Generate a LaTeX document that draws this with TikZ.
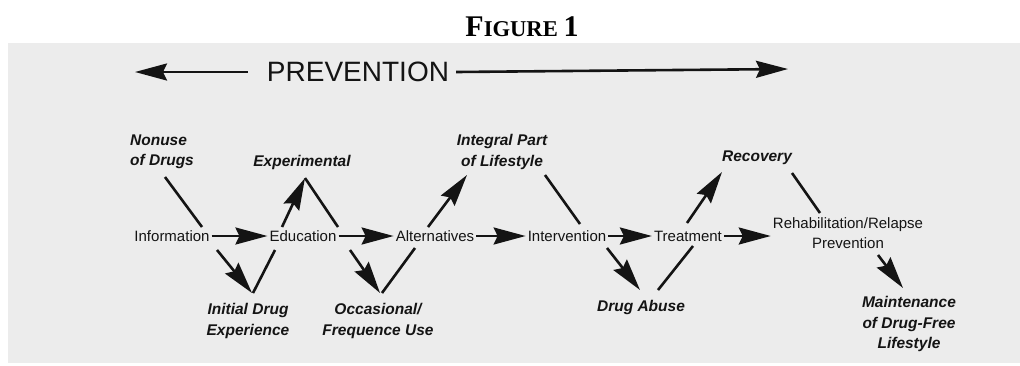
\documentclass[tikz,border=0pt]{standalone}
\usepackage{fontspec}
\setmainfont{Liberation Sans}
\newfontfamily\titlefont{Liberation Serif}
\usetikzlibrary{arrows.meta}
\definecolor{bgray}{RGB}{236,236,236}
\definecolor{ink}{RGB}{20,20,20}
\begin{document}
\begin{tikzpicture}[x=1pt,y=-1pt,
  proc/.style={inner sep=2pt, font=\fontsize{15}{20}\selectfont, text=ink, align=center},
  stage/.style={inner sep=2pt, font=\fontsize{15.5}{20.5}\selectfont\bfseries\itshape, text=ink, align=center},
  conn/.style={line width=2.6pt, draw=ink},
  arr/.style={conn, -{Stealth[length=32pt,width=17pt,inset=4pt]}}]
\useasboundingbox (0,0) rectangle (1020,365);
\fill[bgray] (8,43) rectangle (1020,363);
% title
\node[anchor=base, inner sep=0pt, text=black] (title) at (522,36)
  {\titlefont\bfseries\fontsize{30}{30}\selectfont F\fontsize{22.6}{22.6}\selectfont IGURE \fontsize{30}{30}\selectfont 1};
% prevention
\node[inner sep=2pt, text=ink, font=\fontsize{28}{28}\selectfont] (prev) at (358,72) {PREVENTION};
\coordinate (pl) at (135,72);
\coordinate (pr) at (788,69);
\draw[arr] ([xshift=-17pt]prev.west) -- (pl);
\draw[arr] ([xshift=5pt]prev.east) -- (pr);
% process nodes
\node[proc] (info) at (172,236) {Information};
\node[proc] (edu) at (303,236) {Education};
\node[proc] (alt) at (435,236) {Alternatives};
\node[proc] (interv) at (567,236) {Intervention};
\node[proc] (treat) at (688,236) {Treatment};
\node[proc] (rehab) at (848,233) {Rehabilitation/Relapse\\Prevention};
% stage nodes
\node[stage, align=left] (nonuse) at (162,152) {Nonuse\\of Drugs};
\node[stage] (exper) at (302,162) {Experimental};
\node[stage] (init) at (248,321) {Initial Drug\\Experience};
\node[stage] (occas) at (378,321) {Occasional/\\Frequence Use};
\node[stage] (integ) at (502,152) {Integral Part\\of Lifestyle};
\node[stage] (abuse) at (641,307) {Drug Abuse};
\node[stage] (recov) at (757,158) {Recovery};
\node[stage] (maint) at (909,324) {Maintenance\\of Drug-Free\\Lifestyle};
% connectors
\draw[conn] ([xshift=3pt,yshift=-25pt]nonuse.center) -- ([xshift=30pt,yshift=9pt]info.center);
\draw[arr] (info) -- (edu);
\draw[arr] ([xshift=45pt,yshift=-14pt]info.center) -- ([xshift=4pt,yshift=28pt]init.center);
\draw[conn] ([xshift=5pt,yshift=28pt]init.center) -- ([xshift=-28pt,yshift=-14pt]edu.center);
\draw[arr] ([xshift=-21pt,yshift=9pt]edu.center) -- ([xshift=3pt,yshift=-16pt]exper.center);
\draw[conn] ([xshift=3pt,yshift=-16pt]exper.center) -- ([xshift=35pt,yshift=9pt]edu.center);
\draw[arr] (edu) -- (alt);
\draw[arr] ([xshift=47pt,yshift=-14pt]edu.center) -- ([xshift=2pt,yshift=28pt]occas.center);
\draw[conn] ([xshift=4pt,yshift=28pt]occas.center) -- ([xshift=-20pt,yshift=-12pt]alt.center);
\draw[arr] ([xshift=-7pt,yshift=9pt]alt.center) -- ([xshift=-35pt,yshift=-23pt]integ.center);
\draw[arr] (alt) -- (interv);
\draw[conn] ([xshift=43pt,yshift=-23pt]integ.center) -- ([xshift=13pt,yshift=12pt]interv.center);
\draw[arr] ([xshift=40pt,yshift=-12pt]interv.center) -- ([xshift=-1pt,yshift=17pt]abuse.center);
\draw[conn] ([xshift=17pt,yshift=17pt]abuse.center) -- ([xshift=5pt,yshift=-10pt]treat.center);
\draw[arr] (interv) -- (treat);
\draw[arr] ([xshift=-1pt,yshift=13pt]treat.center) -- ([xshift=-35pt,yshift=-14pt]recov.center);
\draw[conn] ([xshift=35pt,yshift=-15pt]recov.center) -- ([xshift=-28pt,yshift=20pt]rehab.center);
\draw[arr] (treat.east) -- (treat.east -| rehab.west);
\draw[arr] ([xshift=30pt,yshift=-22pt]rehab.center) -- ([xshift=-6pt,yshift=36pt]maint.center);
\end{tikzpicture}
\end{document}
